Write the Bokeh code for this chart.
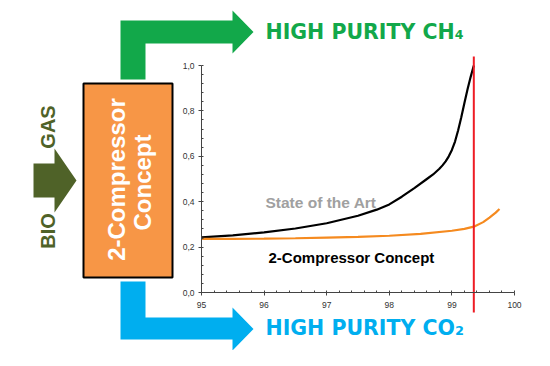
from bokeh.plotting import figure
from bokeh.models import LinearAxis, FixedTicker, CustomJSTickFormatter, Range1d
from bokeh.core.properties import value
from bokeh.embed import file_html
from bokeh.resources import INLINE

# ---------------- data ----------------
purity_sota = [95.0, 95.5, 96.0, 96.5, 97.0, 97.5, 97.8, 98.0, 98.2, 98.4, 98.6, 98.7,
               98.8, 98.85, 98.9, 98.95, 99.0, 99.05, 99.1, 99.15, 99.2, 99.25, 99.3, 99.35]
value_sota = [0.243, 0.252, 0.265, 0.282, 0.305, 0.338, 0.365, 0.388, 0.422, 0.46, 0.50, 0.52,
              0.545, 0.56, 0.578, 0.60, 0.628, 0.665, 0.715, 0.772, 0.835, 0.895, 0.95, 1.0]

purity_2c = [95.0, 95.5, 96.0, 96.5, 97.0, 97.5, 98.0, 98.5, 99.0, 99.2, 99.35,
             99.5, 99.6, 99.7, 99.76]
value_2c = [0.236, 0.236, 0.237, 0.239, 0.242, 0.245, 0.25, 0.258, 0.272, 0.28, 0.29,
            0.31, 0.33, 0.352, 0.368]

limit_purity = 99.35

x_ticks = [95, 96, 97, 98, 99, 100]
y_ticks = [0.0, 0.2, 0.4, 0.6, 0.8, 1.0]
x_minor = [95 + i * 0.2 for i in range(26)]
y_minor = [i * 0.04 for i in range(26)]

label_ch4 = "HIGH PURITY CH\u2084"
label_co2 = "HIGH PURITY CO\u2082"
label_sota = "State of the Art"
label_2c = "2-Compressor Concept"
box_lines = ["2-Compressor", "Concept"]

# ---------------- layout helpers (picture pixel -> data) ----------------
W, H = 534, 350


def X(px):
    return 95 + (px - 201) * 5.0 / (514 - 201)


def Y(py):
    return (292 - py) / (292 - 65)


p = figure(width=W, height=H, x_range=Range1d(X(0), X(W)),
           y_range=Range1d(Y(H), Y(0)), output_backend="svg",
           toolbar_location=None, x_axis_location=None, y_axis_location=None,
           min_border=0, outline_line_color=None, background_fill_color="white",
           border_fill_color="white")
p.title.visible = False
p.grid.visible = False

# ---------------- axes ----------------
axis_col = "#444444"
common = dict(axis_line_color=axis_col, axis_line_width=1,
              major_tick_out=3, major_tick_in=0, minor_tick_out=0, minor_tick_in=2,
              major_tick_line_color=axis_col, minor_tick_line_color=axis_col,
              major_label_text_font_size="8.5px", major_label_text_color="#333333",
              major_label_text_font="Liberation Sans")

yaxis = LinearAxis(fixed_location=95, bounds=(0, 1),
                   ticker=FixedTicker(ticks=y_ticks, minor_ticks=y_minor),
                   formatter=CustomJSTickFormatter(code="return tick.toFixed(1).replace('.', ',');"),
                   major_label_standoff=4, **common)
p.add_layout(yaxis, "left")

xaxis = LinearAxis(fixed_location=0, bounds=(95, 100),
                   ticker=FixedTicker(ticks=x_ticks, minor_ticks=x_minor),
                   formatter=CustomJSTickFormatter(code="return tick.toFixed(0);"),
                   major_label_standoff=6, **common)
p.add_layout(xaxis, "below")

# ---------------- diagram shapes ----------------
green = "#12a84a"
blue = "#00aeef"
olive = "#4f6228"
orange_box = "#f79646"

green_pts = [(120, 79), (120, 20), (232, 20), (232, 10), (253, 31.5), (232, 53),
             (232, 43), (145, 43), (145, 79)]
p.patch([X(a) for a, b in green_pts], [Y(b) for a, b in green_pts],
        fill_color=green, line_color=None)

blue_pts = [(120, 281), (145, 281), (145, 317), (232, 317), (232, 307), (253, 328.5),
            (232, 350), (232, 339), (120, 339)]
p.patch([X(a) for a, b in blue_pts], [Y(b) for a, b in blue_pts],
        fill_color=blue, line_color=None)

bio_pts = [(33, 163), (54, 163), (54, 148), (76, 180), (54, 212), (54, 197), (33, 197)]
p.patch([X(a) for a, b in bio_pts], [Y(b) for a, b in bio_pts],
        fill_color=olive, line_color=None)

p.quad(left=[X(83)], right=[X(172)], top=[Y(83)], bottom=[Y(277)],
       fill_color=orange_box, line_color="black", line_width=2)

# ---------------- chart curves ----------------
p.line(purity_sota, value_sota, line_color="black", line_width=2.2)
p.line(purity_2c, value_2c, line_color="#f58a1f", line_width=2.2)
p.segment(x0=[limit_purity], y0=[Y(312)], x1=[limit_purity], y1=[Y(56)],
          line_color="#ee1c25", line_width=2)

# ---------------- texts ----------------
p.text(x=[X(265)], y=[Y(31)], text=[label_ch4], text_font=value("DejaVu Sans"),
       text_font_style="bold", text_font_size="20.5px", text_color=green,
       text_align="left", text_baseline="middle")
p.text(x=[X(265)], y=[Y(327.5)], text=[label_co2], text_font=value("DejaVu Sans"),
       text_font_style="bold", text_font_size="20.5px", text_color=blue,
       text_align="left", text_baseline="middle")
p.text(x=[X(265)], y=[Y(201.5)], text=[label_sota], text_font=value("Liberation Sans"),
       text_font_style="bold", text_font_size="15.5px", text_color="#a0a0a0",
       text_align="left", text_baseline="middle")
p.text(x=[X(268)], y=[Y(257)], text=[label_2c], text_font=value("Liberation Sans"),
       text_font_style="bold", text_font_size="15px", text_color="black",
       text_align="left", text_baseline="middle")

p.text(x=[X(116), X(142)], y=[Y(179), Y(182)], text=box_lines,
       text_font=value("Liberation Sans"), text_font_style="bold",
       text_font_size="24px", text_color="white", angle=1.5708,
       text_align="center", text_baseline="middle")

p.text(x=[X(47.5), X(47.5)], y=[Y(230.5), Y(126.5)], text=["BIO", "GAS"],
       text_font=value("Liberation Sans"), text_font_style="bold",
       text_font_size="20px", text_color=olive, angle=1.5708,
       text_align="center", text_baseline="middle")

open("out.html", "w").write(file_html(p, INLINE))
